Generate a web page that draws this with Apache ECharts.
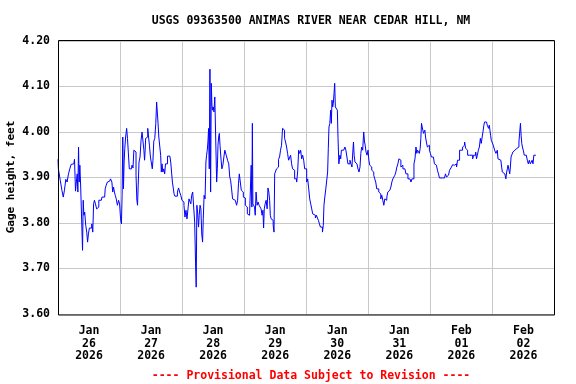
<!DOCTYPE html>
<html>
<head>
<meta charset="utf-8">
<script src="https://cdn.jsdelivr.net/npm/echarts@6/dist/echarts.min.js"></script>
<style>html,body{margin:0;padding:0;background:#fff;}#c{width:576px;height:384px;}</style>
</head>
<body>
<div id="c"></div>
<script>
// Hours since 2026-01-26 00:00 (local)
const hours = [
0.00,0.30,0.54,1.19,1.84,2.23,2.75,3.27,3.79,4.31,4.82,5.34,6.12,6.64,6.90,7.29,7.55,7.81,8.07,8.32,8.58,8.97,9.36,9.62,9.88,10.14,10.53,10.92,11.31,11.57,11.95,12.34,12.86,13.25,13.64,13.90,14.29,14.68,15.20,15.59,15.97,16.75,17.27,18.05,18.44,18.83,19.35,19.99,20.64,21.03,21.29,21.68,21.94,22.33,22.72,23.24,23.62,24.01,24.40,24.66,24.92,25.18,25.44,25.70,25.96,26.35,26.74,27.00,27.38,27.77,28.42,28.81,29.20,29.46,29.98,30.37,30.63,30.89,31.14,31.53,31.92,32.31,32.70,33.09,33.35,33.61,
33.80,33.99,34.51,34.90,35.16,35.55,35.94,36.33,36.59,36.85,37.24,37.62,38.01,38.27,38.53,38.79,39.18,39.57,39.83,40.09,40.35,40.74,41.12,41.38,41.77,42.16,42.55,43.07,43.46,43.72,44.11,44.37,44.76,45.01,45.40,45.92,46.44,46.83,47.22,47.74,48.13,48.52,48.90,49.29,49.68,50.07,50.46,50.85,51.24,51.50,51.89,52.28,52.66,53.05,53.31,53.57,53.83,54.22,54.48,54.74,55.13,55.39,55.78,56.04,56.30,56.68,57.07,57.33,57.59,57.85,58.11,58.37,58.63,58.89,59.15,59.41,59.67,59.93,60.19,60.44,60.83,61.22,61.48,61.74,62.00,62.26,62.52,62.78,63.17,63.56,63.95,64.33,64.72,
65.38,65.77,66.29,66.55,66.93,67.32,67.71,68.23,68.88,69.27,69.66,69.92,70.31,70.69,71.08,71.47,71.86,72.25,72.64,73.03,73.42,74.07,74.58,74.84,75.10,75.23,75.49,75.88,76.14,76.40,76.79,77.18,77.57,77.96,78.34,78.73,79.12,79.38,79.64,79.90,80.29,80.68,81.07,81.33,81.72,81.97,82.23,82.62,83.01,83.40,83.66,83.92,84.31,84.70,85.09,85.48,85.86,86.25,86.64,87.03,87.42,87.81,88.20,88.59,88.98,89.37,89.75,90.14,90.53,90.92,91.31,91.70,92.09,92.48,92.87,93.26,93.64,94.03,94.42,94.81,95.20,95.59,95.98,96.37,96.76,97.15,97.53,97.92,98.31,98.70,99.09,
99.35,99.73,100.12,100.51,100.90,101.29,101.68,102.07,102.46,102.72,102.98,103.37,103.75,104.14,104.40,104.66,104.92,105.31,105.57,105.83,106.09,106.35,106.61,106.87,107.13,107.38,107.64,107.90,108.16,108.42,108.81,109.20,109.46,109.72,110.24,110.76,111.14,111.53,111.92,112.31,112.70,113.09,113.48,113.87,114.13,114.39,114.65,115.03,115.42,115.81,116.20,116.59,116.98,117.24,117.63,118.02,118.41,118.67,118.92,119.31,119.70,120.09,120.35,120.74,121.13,121.52,121.91,122.30,122.68,123.07,123.46,123.85,124.24,124.63,125.02,125.41,125.80,126.19,126.57,126.96,127.35,127.74,128.13,128.52,128.91,129.30,129.69,130.07,130.46,130.85,131.24,131.63,132.02,132.41,
132.79,133.18,133.57,133.96,134.35,134.74,135.13,135.52,135.91,136.30,136.68,137.07,137.46,137.85,138.24,138.63,138.89,139.15,139.54,139.93,140.19,140.44,140.70,140.96,141.22,141.48,141.74,142.00,142.26,142.65,143.04,143.43,143.82,144.20,144.59,144.98,145.37,145.76,146.15,146.54,146.93,147.32,147.71,148.09,148.48,148.87,149.26,149.65,150.04,150.43,150.82,151.21,151.60,151.98,152.37,152.76,153.15,153.54,153.93,154.32,154.71,155.10,155.49,155.87,156.26,156.65,157.04,157.43,157.82,158.21,158.60,158.99,159.38,159.76,160.15,160.54,160.93,161.32,161.71,
161.97,162.36,162.75,163.14,163.53,163.79,164.04,164.30,164.56,164.82,165.08,165.34,165.60,165.86,166.12,166.38,166.64,166.90,167.16,167.42,167.68,167.93,168.19,168.45,168.71,168.97,169.23,169.49,169.75,170.01,170.27,170.66,171.05,171.44,171.69,171.95,172.34,172.60,172.99,173.38,173.64,173.90,174.16,174.55,174.81,175.07,175.33,175.71,176.10,176.49,176.88,177.27,177.66,178.05,178.44,178.70,178.96,179.21,179.47,179.73,180.12,180.51,180.90,181.29,181.68,182.07,182.46,182.85,183.24,183.49,183.88,184.14,184.79
];
// Gage height, feet
const gageFeet = [
3.940,3.919,3.919,3.894,3.872,3.857,3.872,3.896,3.890,3.908,3.919,3.929,3.930,3.940,3.870,3.890,3.908,3.868,3.967,3.890,3.927,3.879,3.875,3.740,3.850,3.817,3.824,3.795,3.780,3.758,3.776,3.789,3.789,3.798,3.780,3.842,3.850,3.842,3.831,3.835,3.850,3.850,3.857,3.857,3.875,3.883,3.890,3.892,3.897,3.890,3.868,3.879,3.868,3.861,3.853,3.839,3.850,3.842,3.809,3.798,3.861,3.989,3.875,3.934,3.964,3.989,4.008,3.986,3.956,3.919,3.919,3.927,3.921,3.960,3.956,3.905,3.850,3.839,3.883,3.934,3.945,3.982,4.000,4.000,3.960,3.938,
3.960,3.986,3.989,4.008,3.989,3.971,3.945,3.941,3.919,3.938,3.980,3.986,4.019,4.066,4.063,4.022,3.989,3.986,3.949,3.912,3.930,3.912,3.919,3.908,3.930,3.930,3.947,3.947,3.949,3.934,3.912,3.890,3.877,3.864,3.859,3.859,3.868,3.877,3.868,3.861,3.850,3.846,3.839,3.813,3.828,3.809,3.831,3.853,3.857,3.842,3.861,3.868,3.870,3.802,3.714,3.659,3.839,3.820,3.791,3.817,3.839,3.831,3.776,3.758,3.809,3.861,3.853,3.934,3.949,3.960,3.978,4.008,3.919,4.138,3.868,4.107,4.059,4.048,4.055,4.044,4.077,4.077,3.890,3.919,3.971,3.989,3.997,3.971,3.945,3.919,3.927,3.945,3.960,
3.949,3.938,3.930,3.901,3.894,3.875,3.853,3.850,3.848,3.839,3.850,3.886,3.908,3.890,3.872,3.868,3.857,3.855,3.839,3.835,3.820,3.817,3.817,3.927,3.835,4.019,3.842,3.846,3.835,3.817,3.868,3.839,3.846,3.839,3.835,3.831,3.817,3.828,3.789,3.831,3.842,3.850,3.831,3.877,3.868,3.850,3.817,3.809,3.806,3.795,3.780,3.908,3.912,3.919,3.923,3.940,3.945,3.960,3.971,4.008,4.004,3.986,3.978,3.967,3.953,3.938,3.941,3.949,3.930,3.919,3.916,3.897,3.897,3.890,3.912,3.960,3.953,3.960,3.941,3.949,3.938,3.919,3.919,3.890,3.897,3.875,3.853,3.842,3.831,3.820,3.817,
3.817,3.811,3.817,3.811,3.806,3.798,3.791,3.791,3.780,3.795,3.839,3.857,3.875,3.879,3.912,3.964,4.011,4.019,4.048,4.019,4.070,4.055,4.063,4.085,4.107,4.055,4.059,4.055,4.048,3.986,3.930,3.949,3.941,3.960,3.960,3.960,3.967,3.960,3.945,3.930,3.930,3.938,3.930,3.923,3.956,3.978,3.949,3.934,3.930,3.927,3.919,3.912,3.923,3.953,3.967,3.960,4.000,3.978,3.971,3.956,3.949,3.960,3.938,3.927,3.923,3.916,3.912,3.905,3.897,3.890,3.875,3.875,3.868,3.864,3.853,3.861,3.850,3.839,3.853,3.850,3.857,3.868,3.872,3.875,3.879,3.890,3.897,3.894,3.905,3.912,3.923,3.930,3.941,3.938,
3.923,3.927,3.919,3.919,3.916,3.908,3.908,3.897,3.897,3.896,3.890,3.897,3.897,3.930,3.941,3.967,3.953,3.960,3.956,3.953,3.964,3.986,4.019,4.011,4.008,3.997,3.993,4.004,3.989,3.978,3.967,3.971,3.960,3.953,3.945,3.945,3.941,3.930,3.927,3.923,3.916,3.908,3.899,3.901,3.899,3.901,3.899,3.899,3.908,3.901,3.905,3.901,3.916,3.919,3.923,3.928,3.927,3.923,3.930,3.923,3.938,3.938,3.960,3.956,3.960,3.967,3.971,3.978,3.964,3.960,3.949,3.949,3.949,3.949,3.949,3.941,3.949,3.949,3.956,
3.941,3.949,3.960,3.967,3.986,3.975,3.978,3.971,4.004,4.015,4.022,4.026,4.019,4.022,4.015,4.019,4.008,4.015,4.004,3.993,3.982,3.978,3.986,3.971,3.971,3.960,3.964,3.953,3.949,3.960,3.941,3.938,3.938,3.934,3.923,3.912,3.916,3.908,3.908,3.897,3.912,3.919,3.927,3.923,3.908,3.923,3.945,3.949,3.956,3.960,3.960,3.964,3.964,3.967,3.978,3.975,4.019,3.993,3.975,3.967,3.960,3.949,3.949,3.949,3.938,3.930,3.938,3.930,3.930,3.938,3.930,3.949,3.949
];
const dayLabels = ['Jan\n26\n2026','Jan\n27\n2026','Jan\n28\n2026','Jan\n29\n2026','Jan\n30\n2026','Jan\n31\n2026','Feb\n01\n2026','Feb\n02\n2026'];
const yTicks = [3.6, 3.7, 3.8, 3.9, 4.0, 4.1, 4.2];

const FONT = 'DejaVu Sans Mono';
const W = 576, H = 384;
const G = {left: 58, right: 21.5, top: 41, bottom: 70};
const chart = echarts.init(document.getElementById('c'), null, {renderer: 'canvas'});
const seriesData = hours.map((h, i) => [h, gageFeet[i]]);

chart.setOption({
  animation: false,
  backgroundColor: '#ffffff',
  title: [
    {text: 'USGS 09363500 ANIMAS RIVER NEAR CEDAR HILL, NM', left: 306, top: 10, textAlign: 'center',
     textStyle: {fontFamily: FONT, fontWeight: 'bold', fontSize: 11.5, color: '#000'}},
    {text: '---- Provisional Data Subject to Revision ----', left: 306, top: 365, textAlign: 'center',
     textStyle: {fontFamily: FONT, fontWeight: 'bold', fontSize: 11.5, color: '#ff0000'}}
  ],
  grid: {left: G.left, right: G.right, top: G.top, bottom: G.bottom, show: false},
  xAxis: [
    {type: 'value', min: 0, max: 192, interval: 24,
     axisLine: {show: false}, axisTick: {show: false}, axisLabel: {show: false},
     splitLine: {show: true, lineStyle: {color: '#c8c8c8', width: 1}}},
    {type: 'category', data: dayLabels, boundaryGap: true, position: 'bottom',
     axisLine: {show: false}, axisTick: {show: false}, splitLine: {show: false},
     axisLabel: {interval: 0, margin: 11, lineHeight: 12.5, fontFamily: FONT, fontWeight: 'bold', fontSize: 11.5, color: '#000', align: 'center'}}
  ],
  yAxis: {
    type: 'value', min: yTicks[0], max: yTicks[yTicks.length - 1], interval: 0.1,
    axisLine: {show: false}, axisTick: {show: false},
    axisLabel: {margin: 8, padding: [4, 0, 0, 0], fontFamily: FONT, fontWeight: 'bold', fontSize: 11.5, color: '#000',
                formatter: v => v.toFixed(2)},
    splitLine: {show: true, lineStyle: {color: '#c8c8c8', width: 1}}
  },
  graphic: [
    {type: 'text', x: 11, y: 177, rotation: Math.PI / 2,
     style: {text: 'Gage height, feet', fontFamily: FONT, fontWeight: 'bold', fontSize: 11, fill: '#000', align: 'center', verticalAlign: 'middle'}},
    {type: 'rect', z: 100, silent: true,
     shape: {x: G.left + 0.5, y: G.top - 0.5, width: W - G.left - G.right - 0.5, height: H - G.top - G.bottom + 1.5},
     style: {fill: 'none', stroke: '#000', lineWidth: 1}}
  ],
  series: [{
    type: 'line', xAxisIndex: 0, data: seriesData, showSymbol: false, symbol: 'none', step: 'middle',
    lineStyle: {color: '#0000ff', width: 1}, itemStyle: {color: '#0000ff'}, z: 5
  }]
});
</script>
</body>
</html>
